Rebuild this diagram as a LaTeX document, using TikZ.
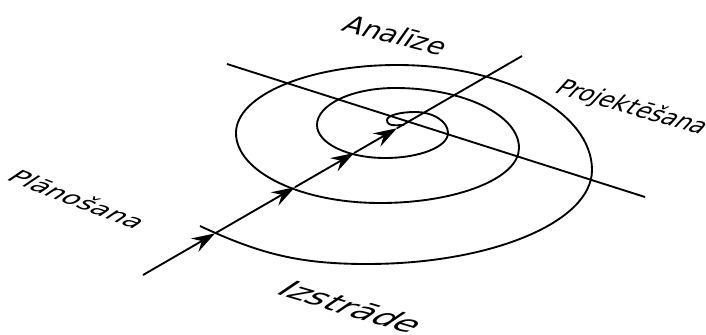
\documentclass[tikz,border=0pt]{standalone}
\usepackage{fontspec}
\setmainfont{DejaVu Sans}
\usetikzlibrary{arrows.meta, calc}

\tikzset{
  thin line/.style={line width=1.6pt},
  spiral/.style={line width=1.6pt},
  flow/.style={line width=1.6pt, -{Stealth[length=20pt, width=13pt, inset=7pt]}},
  phase/.style={inner sep=0pt, font=\fontsize{#1}{#1}\selectfont}
}

% quarter of an ellipse: from a point with vertical tangent to one with horizontal tangent, and back
\newcommand{\vtoh}[2]{.. controls ($(#1)!0.552!(#1|-#2)$) and ($(#2)!0.552!(#1|-#2)$) .. (#2)}
\newcommand{\htov}[2]{.. controls ($(#1)!0.552!(#2|-#1)$) and ($(#2)!0.552!(#2|-#1)$) .. (#2)}

\begin{document}
\begin{tikzpicture}[x=0.03cm, y=-0.03cm]
    \useasboundingbox (0,0) rectangle (706,334);

    % spiral points (left, top, right, bottom of each turn)
    \coordinate (S0) at (404,125);
    \coordinate (L1) at (387,120);
    \coordinate (T1) at (415,112);
    \coordinate (R1) at (448,133);
    \coordinate (B1) at (385,158);
    \coordinate (L2) at (317,125);
    \coordinate (T2) at (395,88);
    \coordinate (R2) at (519,148);
    \coordinate (B2) at (380,203);
    \coordinate (L3) at (236,133);
    \coordinate (T3) at (397,65);
    \coordinate (R3) at (592,170);
    \coordinate (B3) at (367,264);
    \coordinate (E3) at (200,226);

    \draw[spiral] (S0) to[out=180, in=-90] (L1)
        \vtoh{L1}{T1} \htov{T1}{R1} \vtoh{R1}{B1} \htov{B1}{L2}
        \vtoh{L2}{T2} \htov{T2}{R2} \vtoh{R2}{B2} \htov{B2}{L3}
        \vtoh{L3}{T3} \htov{T3}{R3} \vtoh{R3}{B3}
        to[out=180, in=-25] (E3);

    % axes
    \coordinate (aS) at (143,275);
    \coordinate (aE) at (522,56);
    \coordinate (bS) at (227,64);
    \coordinate (bE) at (645,197);
    \coordinate (a1) at ($(aS)!0.190!(aE)$);
    \coordinate (a2) at ($(aS)!0.401!(aE)$);
    \coordinate (a3) at ($(aS)!0.557!(aE)$);
    \coordinate (a4) at ($(aS)!0.670!(aE)$);

    \draw[thin line] (bS) -- (bE);
    \foreach \p/\q in {aS/a1, a1/a2, a2/a3, a3/a4}
        \draw[flow] (\p) -- (\q);
    \draw[thin line] (a4) -- (aE);

    % phases
    \node[phase=21, rotate=-14.5, xslant=0.38, xscale=1.15] (lblAnalize) at (396,35) {Analīze};
    \node[phase=19.5, rotate=-16, xslant=0.5, xscale=1.04] (lblProj) at (632,108) {Projektēšana};
    \node[phase=17.5, rotate=-21, xslant=0.7, xscale=1.32] (lblPlan) at (78,199) {Plānošana};
    \node[phase=21.5, rotate=-16.5, xslant=0.82, xscale=1.4] (lblIzstr) at (352,307) {Izstrāde};
\end{tikzpicture}
\end{document}
